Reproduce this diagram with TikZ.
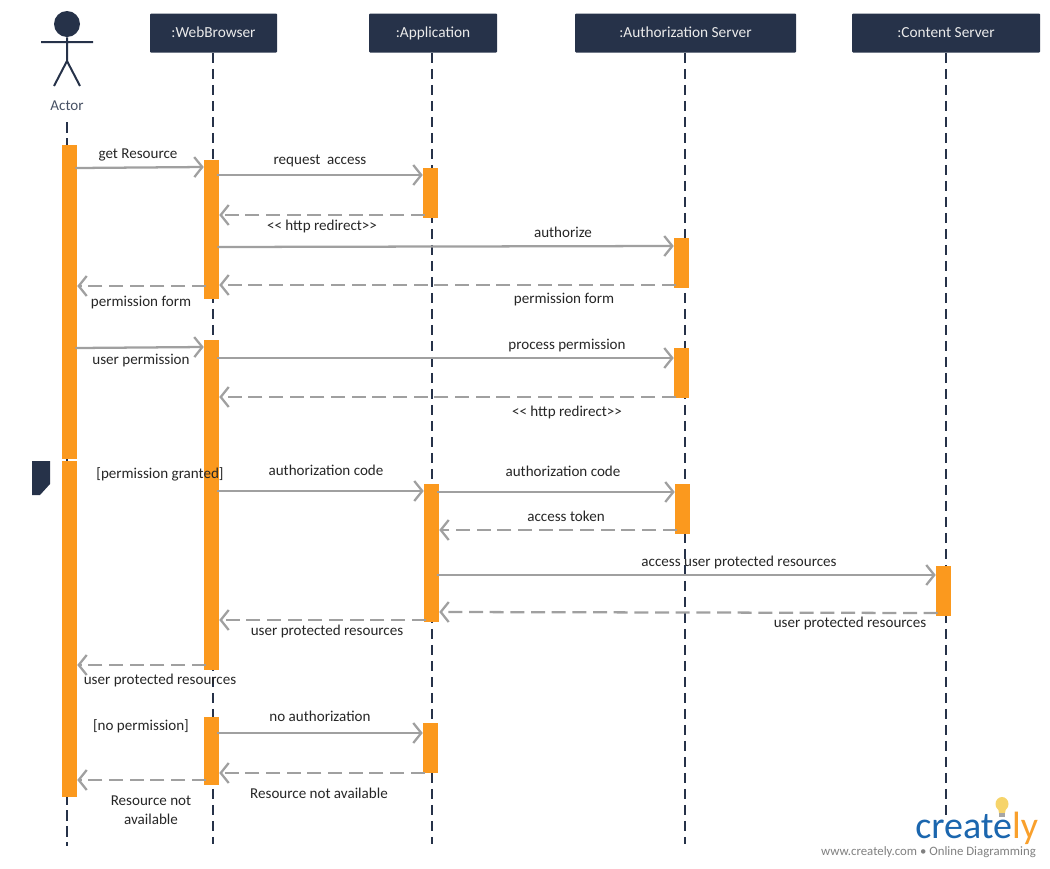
\documentclass[tikz,border=0pt]{standalone}
\usepackage{fontspec}
\setmainfont{Carlito}
\usetikzlibrary{arrows.meta}
\definecolor{navy}{HTML}{263249}
\definecolor{barorange}{HTML}{FB991E}
\definecolor{msggrey}{HTML}{A0A0A0}
\definecolor{logoblue}{HTML}{1B66AE}
\definecolor{logoorange}{HTML}{F9A02C}
\definecolor{bulbyellow}{HTML}{F6D46A}
\tikzset{
    headbox/.style={draw=none, fill=navy, text=white!92!black, rounded corners=0.75pt, minimum height=29.25pt, inner sep=0pt, text height=9pt, text depth=2.2pt, font=\fontsize{11.5}{13}\selectfont},
    actbar/.style={draw=none, fill=barorange, minimum width=11.25pt, inner sep=0pt},
    lifeline/.style={draw=navy, line width=1.5pt, dash pattern=on 8pt off 4pt},
    msg/.style={draw=msggrey, line width=1.7pt, shorten <=-1.5pt, -{Straight Barb[length=6pt, width=15pt, line width=1.7pt]}},
    retmsg/.style={msg, dash pattern=on 10.5pt off 5pt},
    lbl/.style={text=black!85, align=center, inner sep=0pt, font=\fontsize{11.3}{14}\selectfont}
}
\begin{document}
\begin{tikzpicture}[x=0.75pt, y=-0.75pt]
    \useasboundingbox (0, 0) rectangle (1050, 868);

    % actor
    \node[circle, fill=navy, inner sep=0pt, minimum size=19.5pt] (actorHead) at (67, 24) {};
    \draw[draw=navy, line width=1.5pt]
    (actorHead.south) -- (67, 61)
    (41, 42) -- (93, 42)
    (54, 86) -- (67, 61) -- (80, 86);
    \node[lbl, text=navy!85] (actorLabel) at (67, 106) {Actor};

    % header boxes
    \node[headbox, minimum width=95.25pt] (webBrowser) at (213.5, 33) {:WebBrowser};
    \node[headbox, minimum width=96pt] (application) at (433, 33) {:Application};
    \node[headbox, minimum width=165.75pt] (authServer) at (685.5, 33) {:Authorization Server};
    \node[headbox, minimum width=141pt] (contentServer) at (946, 33) {:Content Server};

    % lifelines
    \coordinate (actorTop) at (67, 122);
    \draw[lifeline] (actorTop) -- (67, 846);
    \draw[lifeline] ([xshift=-0.4pt]webBrowser.south) -- ([xshift=-0.4pt]webBrowser.south |- 0, 844);
    \draw[lifeline] ([xshift=-0.75pt]application.south) -- ([xshift=-0.75pt]application.south |- 0, 844);
    \draw[lifeline] ([xshift=-0.4pt]authServer.south) -- ([xshift=-0.4pt]authServer.south |- 0, 844);
    \draw[lifeline] (contentServer.south) -- (contentServer.south |- 0, 818);

    % activation bars
    \foreach \name/\x/\top/\bottom in {
        actorA/69.5/145/459, actorB/69.5/461/797,
        webA/211.5/160/299, webB/211.5/340/670, webC/211.5/717/785,
        appA/430.5/168/218, appB/431.5/484/622, appC/430.5/723/773,
        authA/681.5/238/288, authB/681.5/348/398, authC/682.5/484/534,
        contentA/943.5/566/616} {
        \node[actbar, minimum height={(\bottom-\top)*0.75pt}] (\name) at (\x, {(\top+\bottom)/2}) {};
    }

    % fragment tag
    \fill[navy] (32, 461) -- (50, 461) -- (50, 484) -- (40, 495) -- (32, 495) -- cycle;

    % calls
    \foreach \from/\ya/\to/\yb in {
        actorA/168/webA/167, webA/175/appA/175, webA/247/authA/246,
        actorA/348/webB/347, webB/358/authB/358, webB/491/appB/491,
        appB/492/authC/492, appB/575/contentA/575, webC/733/appC/733} {
        \draw[msg] (\from.east |- 0, \ya) -- (\to.west |- 0, \yb);
    }

    % returns
    \foreach \from/\ya/\to/\yb in {
        appA/215/webA/215, authA/285/webA/285, webA/286/actorA/286,
        authB/397/webB/397, authC/530/appB/530, contentA/613/appB/612,
        appB/620/webB/620, webB/665/actorB/665, appC/773/webC/773,
        webC/780/actorB/780} {
        \draw[retmsg] (\from.west |- 0, \ya) -- (\to.east |- 0, \yb);
    }

    % labels
    \foreach \x/\y/\txt in {
        138/155/get Resource, 320/161/request\ \ access, 322/227/{<}{<} http redirect{>}{>},
        563/234/authorize, 141/303/permission form, 564/300/permission form,
        141/361/user permission, 567/346/process permission, 567/413/{<}{<} http redirect{>}{>},
        160/475/{[permission granted]}, 326/472/authorization code, 563/473/authorization code,
        566/518/access token, 739/563/access user protected resources,
        327/632/user protected resources, 850/624/user protected resources,
        160/681/user protected resources, 141/727/{[no permission]},
        320/718/no authorization, 319/795/Resource not available} {
        \node[lbl, text height=7.5pt, text depth=2.2pt] at (\x, \y) {\txt};
    }
    \node[lbl] (notAvailable) at (151, 810) {Resource not\\available};

    % logo
    \fill[bulbyellow] (1002, 804) circle[x radius=6.5, y radius=7];
    \fill[bulbyellow] (998, 808) -- (1006, 808) -- (1005, 813) -- (999, 813) -- cycle;
    \fill[black!35] (999, 813) rectangle (1005, 817);
    \node[inner sep=0pt, anchor=base west, text depth=0pt] (logoText) at (915, 838) {\fontsize{28.5}{30}\selectfont\textcolor{logoblue}{create}\textcolor{logoorange}{ly}};
    \node[inner sep=0pt, text=black!50, font=\fontsize{9.6}{11}\selectfont] (logoLine) at (928.5, 852.5) {www.creately.com • Online Diagramming};
\end{tikzpicture}
\end{document}
